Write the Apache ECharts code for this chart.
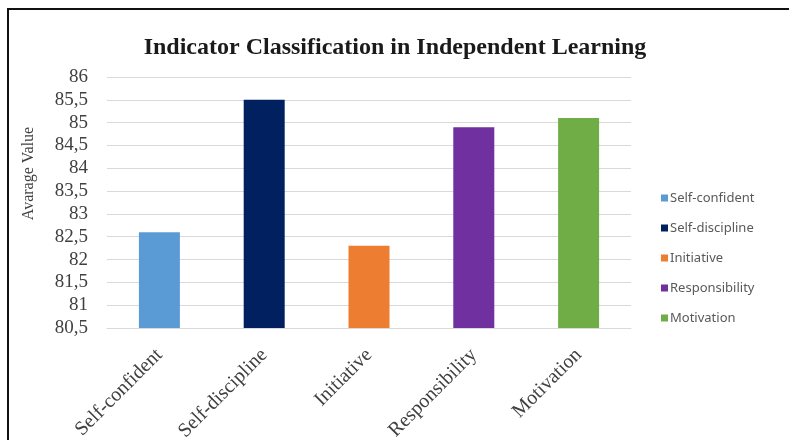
<!DOCTYPE html>
<html>
<head>
<meta charset="utf-8">
<script src="https://cdn.jsdelivr.net/npm/echarts@6/dist/echarts.min.js"></script>
<style>
html,body{margin:0;padding:0;background:#fff;}
#chart{width:789px;height:440px;}
</style>
</head>
<body>
<div id="chart"></div>
<script>
const categories = ['Self-confident', 'Self-discipline', 'Initiative', 'Responsibility', 'Motivation'];
const values = [82.6, 85.5, 82.3, 84.9, 85.1];
const colors = ['#5B9BD5', '#002060', '#ED7D31', '#7030A0', '#70AD47'];
const yMin = 80.5, yMax = 86, yStep = 0.5;

const chart = echarts.init(document.getElementById('chart'));
const series = categories.map((name, i) => ({
  name: name,
  type: 'bar',
  barWidth: 41,
  barGap: '-100%',
  itemStyle: { color: colors[i] },
  data: categories.map((c, j) => j === i ? values[i] : null)
}));

chart.setOption({
  backgroundColor: '#fff',
  animation: false,
  title: {
    text: 'Indicator Classification in Independent Learning',
    left: 390, top: 31, textAlign: 'center',
    textStyle: { fontFamily: 'Liberation Serif', fontWeight: 'bold', fontSize: 24, color: '#1a1a1a' }
  },
  graphic: [{
    type: 'rect', shape: { x: 8, y: 9, width: 800, height: 450 },
    style: { fill: 'none', stroke: '#111', lineWidth: 2 }, silent: true
  }],
  legend: {
    orient: 'vertical', left: 656, top: 186, itemWidth: 7, itemHeight: 7, itemGap: 16,
    icon: 'rect',
    textStyle: { fontFamily: 'Noto Sans', fontSize: 13, lineHeight: 14, color: '#595959', padding: [0,0,0,-3] },
    data: categories
  },
  grid: { left: 107, right: 158, top: 77, bottom: 112, containLabel: false, outerBoundsMode: 'none' },
  xAxis: {
    type: 'category', data: categories,
    axisLine: { lineStyle: { color: '#D9D9D9' } },
    axisTick: { show: false },
    axisLabel: { rotate: 45, interval: 0, fontFamily: 'Liberation Serif', fontSize: 20, color: '#404040', margin: 24 }
  },
  yAxis: {
    type: 'value', min: yMin, max: yMax, interval: yStep,
    name: 'Avarage Value', nameLocation: 'middle', nameGap: 70, nameRotate: 90,
    nameTextStyle: { fontFamily: 'Liberation Serif', fontSize: 16, color: '#404040', padding: [0,0,0,58] },
    axisLine: { show: false }, axisTick: { show: false },
    splitLine: { lineStyle: { color: '#D9D9D9' } },
    axisLabel: { fontFamily: 'Liberation Serif', fontSize: 19, color: '#404040', margin: 19,
      formatter: v => String(v).replace('.', ',') }
  },
  series: series
});
</script>
</body>
</html>
